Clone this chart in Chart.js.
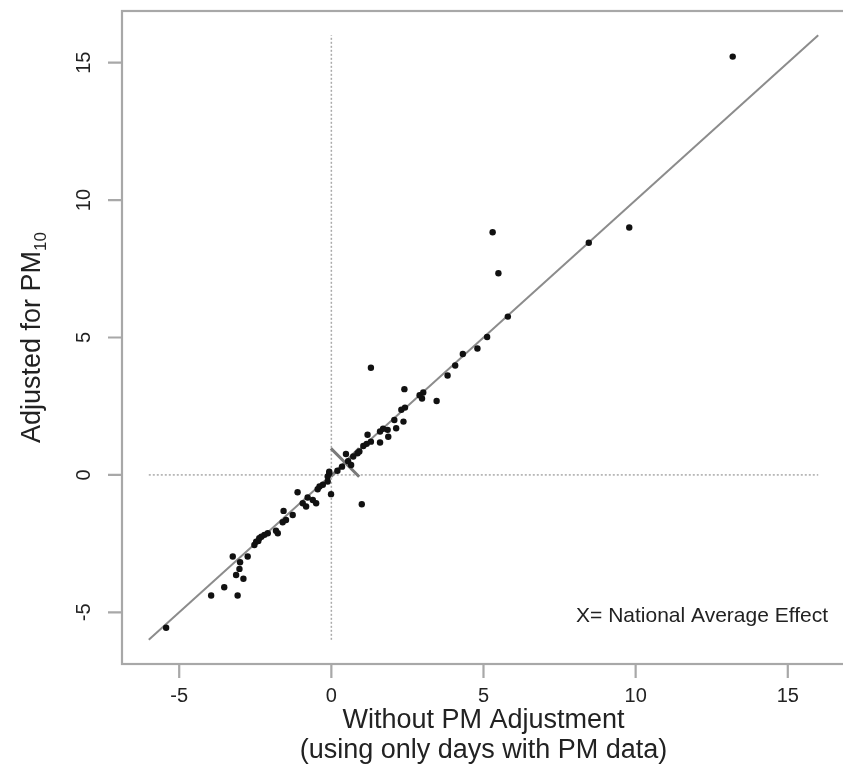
<!DOCTYPE html>
<html><head><meta charset="utf-8">
<script src="https://cdn.jsdelivr.net/npm/chart.js@4.4.0/dist/chart.umd.min.js"></script>
<style>html,body{margin:0;padding:0;background:#fff;overflow:hidden;}#wrap{width:847px;height:784px;position:relative}</style>
</head><body><div id="wrap"><canvas id="c" width="847" height="784"></canvas></div>
<script>
// ---- data ----
const xWithout = [13.19, 9.79, 8.46, 5.30, 5.49, 5.80, 5.12, 4.80, 4.32, 4.07, 3.82, 3.46, 3.02, 2.98, 2.90,
  1.30, 2.40, 2.42, 2.30, 2.37, 2.07, 2.13, 1.85, 1.60, 1.70, 1.87, 1.60, 1.19, 1.16, 1.30, 1.05,
  0.92, 0.86, 0.72, 0.48, 0.65, 0.55, 0.35, 0.20, -0.07, -0.07, -0.12, -0.12, -0.01, 1.00,
  -0.28, -0.39, -0.45, -0.61, -0.50, -0.78, -0.83, -0.94, -1.11, -1.27, -1.57, -1.49, -1.60,
  -1.76, -1.82, -2.09, -2.20, -2.30, -2.37, -2.47, -2.53, -2.40, -2.75, -3.24, -3.00, -3.02,
  -3.13, -2.89, -3.08, -3.52, -3.95, -5.43];
const yAdjusted = [15.22, 9.00, 8.45, 8.83, 7.34, 5.76, 5.02, 4.60, 4.40, 3.98, 3.62, 2.69, 3.00, 2.78, 2.90,
  3.90, 3.12, 2.45, 2.37, 1.94, 2.00, 1.70, 1.64, 1.58, 1.68, 1.39, 1.18, 1.46, 1.13, 1.21, 1.05,
  0.85, 0.79, 0.67, 0.76, 0.36, 0.50, 0.30, 0.15, 0.06, 0.12, -0.06, -0.24, -0.70, -1.07,
  -0.36, -0.42, -0.52, -0.91, -1.03, -0.82, -1.15, -1.03, -0.63, -1.46, -1.31, -1.64, -1.72,
  -2.12, -2.03, -2.12, -2.18, -2.25, -2.30, -2.43, -2.55, -2.40, -2.97, -2.97, -3.18, -3.42,
  -3.64, -3.78, -4.39, -4.09, -4.39, -5.56];
const tickValues = [-5, 0, 5, 10, 15];
const tickLabels = ['-5', '0', '5', '10', '15'];
const identityRange = [-6, 16];
const nationalAverage = [0.45, 0.45];
const axisMin = -6.88, axisMax = 16.88;
const xTitle = ['Without PM Adjustment', '(using only days with PM data)'];
const yTitle = 'Adjusted for PM';
const yTitleSub = '10';
const noteText = 'X= National Average Effect';

const FONT = '"Liberation Sans", Arial, Helvetica, sans-serif';
const TEXT = '#222';
const FRAME = '#a8a8a8';

const pts = xWithout.map((x, i) => ({x, y: yAdjusted[i]}));

const decor = {
  id: 'decor',
  afterDraw(chart) {
    const {ctx, chartArea: a, scales: {x, y}} = chart;
    ctx.save();
    // frame
    ctx.strokeStyle = FRAME; ctx.lineWidth = 2.2;
    ctx.strokeRect(a.left, a.top, a.right - a.left, a.bottom - a.top);
    // ticks
    ctx.beginPath();
    tickValues.forEach(v => {
      const px = x.getPixelForValue(v);
      ctx.moveTo(px, a.bottom); ctx.lineTo(px, a.bottom + 14);
      const py = y.getPixelForValue(v);
      ctx.moveTo(a.left, py); ctx.lineTo(a.left - 14, py);
    });
    ctx.stroke();
    ctx.fillStyle = TEXT;
    ctx.font = '20px ' + FONT;
    ctx.textAlign = 'center'; ctx.textBaseline = 'middle';
    tickValues.forEach((v, i) => {
      ctx.fillText(tickLabels[i], x.getPixelForValue(v), a.bottom + 32);
      ctx.save();
      ctx.translate(a.left - 38, y.getPixelForValue(v));
      ctx.rotate(-Math.PI / 2);
      ctx.fillText(tickLabels[i], 0, 0);
      ctx.restore();
    });
    // x title
    ctx.font = '27px ' + FONT;
    const cx = (a.left + a.right) / 2;
    ctx.fillText(xTitle[0], cx, a.bottom + 57);
    ctx.fillText(xTitle[1], cx, a.bottom + 87);
    // y title with subscript
    ctx.save();
    ctx.translate(33, (a.top + a.bottom) / 2);
    ctx.rotate(-Math.PI / 2);
    ctx.font = '27px ' + FONT;
    const w1 = ctx.measureText(yTitle).width;
    ctx.font = '17px ' + FONT;
    const w2 = ctx.measureText(yTitleSub).width;
    const start = -(w1 + w2) / 2;
    ctx.textAlign = 'left';
    ctx.font = '27px ' + FONT;
    ctx.fillText(yTitle, start, 0);
    ctx.font = '17px ' + FONT;
    ctx.fillText(yTitleSub, start + w1, 8);
    ctx.restore();
    // note
    ctx.font = '21px ' + FONT;
    ctx.textAlign = 'right'; ctx.textBaseline = 'alphabetic';
    ctx.fillText(noteText, 828, 622);
    ctx.restore();
  }
};

new Chart(document.getElementById('c'), {
  type: 'scatter',
  data: {
    datasets: [
      {label: 'Counties', data: pts, backgroundColor: '#111', borderColor: '#111', pointRadius: 3.2, borderWidth: 0, order: 0},
      {label: 'National average', data: [{x: nationalAverage[0], y: nationalAverage[1]}], pointStyle: 'crossRot', pointRadius: 20,
        borderColor: '#7a7a7a', backgroundColor: '#7a7a7a', borderWidth: 3, order: 1},
      {label: 'Identity', data: [{x: identityRange[0], y: identityRange[0]}, {x: identityRange[1], y: identityRange[1]}],
        showLine: true, pointRadius: 0, borderColor: '#8c8c8c', borderWidth: 2, order: 2},
      {label: 'x=0', data: [{x: 0, y: identityRange[0]}, {x: 0, y: identityRange[1]}],
        showLine: true, pointRadius: 0, borderColor: '#aaaaaa', borderWidth: 1.5, borderDash: [2, 2], order: 3},
      {label: 'y=0', data: [{x: identityRange[0], y: 0}, {x: identityRange[1], y: 0}],
        showLine: true, pointRadius: 0, borderColor: '#aaaaaa', borderWidth: 1.5, borderDash: [2, 2], order: 4}
    ]
  },
  options: {
    responsive: false, animation: false, devicePixelRatio: 1,
    layout: {autoPadding: false, padding: {left: 122, top: 11, right: 2, bottom: 120}},
    plugins: {legend: {display: false}, tooltip: {enabled: false}},
    scales: {
      x: {type: 'linear', min: axisMin, max: axisMax, display: false},
      y: {type: 'linear', min: axisMin, max: axisMax, display: false}
    }
  },
  plugins: [decor]
});
</script></body></html>
